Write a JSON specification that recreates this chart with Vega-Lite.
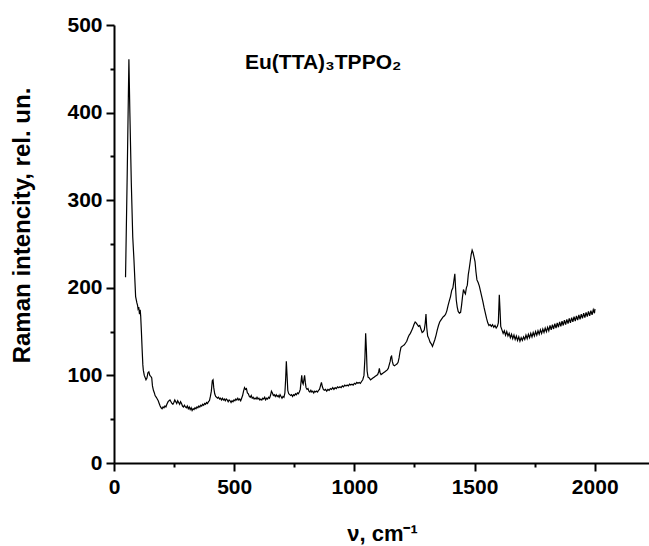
{
  "$schema": "https://vega.github.io/schema/vega-lite/v6.json",
  "autosize": {"type": "none"},
  "width": 536,
  "height": 438,
  "padding": {"left": 114, "top": 25, "right": 0, "bottom": 83},
  "background": "white",
  "config": {"view": {"stroke": null}, "font": "Liberation Sans"},
  "title": {
    "text": "Eu(TTA)₃TPPO₂",
    "anchor": "start",
    "frame": "group",
    "orient": "top",
    "offset": 0,
    "dx": 131,
    "dy": 76,
    "baseline": "alphabetic",
    "font": "Liberation Sans",
    "fontSize": 21,
    "fontWeight": "bold",
    "color": "black"
  },
  "data": {"values": [
    {"nu":48,"I":212},{"nu":55,"I":330},{"nu":62,"I":461},{"nu":66,"I":400},{"nu":72,"I":320},{"nu":78,"I":258},{"nu":83,"I":232},{"nu":90,"I":190},{"nu":95,"I":183},{"nu":98,"I":180},{"nu":100,"I":176},{"nu":103,"I":178},{"nu":106,"I":170},{"nu":109,"I":175},{"nu":111,"I":168},{"nu":114,"I":150},{"nu":117,"I":130},{"nu":120,"I":112},{"nu":122,"I":106},{"nu":126,"I":100},{"nu":129,"I":98},{"nu":133,"I":95},{"nu":137,"I":97},{"nu":141,"I":103},{"nu":145,"I":104},{"nu":149,"I":100},{"nu":153,"I":99},{"nu":157,"I":97},{"nu":160,"I":88},{"nu":164,"I":83},{"nu":168,"I":80},{"nu":171,"I":77},{"nu":176,"I":75},{"nu":180,"I":73},{"nu":184,"I":71},{"nu":188,"I":68},{"nu":192,"I":65},{"nu":196,"I":63},{"nu":200,"I":62},{"nu":204,"I":64},{"nu":208,"I":63},{"nu":212,"I":65},{"nu":216,"I":64},{"nu":220,"I":67},{"nu":225,"I":70},{"nu":229,"I":71},{"nu":233,"I":72},{"nu":237,"I":70},{"nu":241,"I":68},{"nu":245,"I":67},{"nu":249,"I":69},{"nu":253,"I":72},{"nu":257,"I":70},{"nu":261,"I":68},{"nu":265,"I":71},{"nu":269,"I":69},{"nu":273,"I":67},{"nu":277,"I":70},{"nu":281,"I":68},{"nu":285,"I":65},{"nu":289,"I":64},{"nu":293,"I":66},{"nu":297,"I":64},{"nu":301,"I":63},{"nu":305,"I":65},{"nu":309,"I":62},{"nu":313,"I":64},{"nu":317,"I":61},{"nu":321,"I":63},{"nu":325,"I":60},{"nu":329,"I":62},{"nu":333,"I":61},{"nu":337,"I":63},{"nu":341,"I":62},{"nu":345,"I":64},{"nu":349,"I":63},{"nu":353,"I":65},{"nu":357,"I":64},{"nu":361,"I":66},{"nu":365,"I":65},{"nu":369,"I":67},{"nu":373,"I":66},{"nu":377,"I":68},{"nu":381,"I":67},{"nu":385,"I":69},{"nu":389,"I":68},{"nu":393,"I":70},{"nu":397,"I":71},{"nu":401,"I":76},{"nu":405,"I":82},{"nu":409,"I":94},{"nu":412,"I":95},{"nu":415,"I":86},{"nu":419,"I":79},{"nu":423,"I":76},{"nu":427,"I":75},{"nu":431,"I":74},{"nu":435,"I":75},{"nu":439,"I":73},{"nu":443,"I":74},{"nu":447,"I":72},{"nu":451,"I":74},{"nu":455,"I":72},{"nu":459,"I":73},{"nu":463,"I":71},{"nu":467,"I":73},{"nu":471,"I":72},{"nu":475,"I":70},{"nu":479,"I":72},{"nu":483,"I":71},{"nu":487,"I":69},{"nu":491,"I":71},{"nu":495,"I":70},{"nu":499,"I":72},{"nu":503,"I":71},{"nu":507,"I":73},{"nu":511,"I":72},{"nu":515,"I":74},{"nu":519,"I":72},{"nu":523,"I":73},{"nu":527,"I":71},{"nu":531,"I":74},{"nu":535,"I":77},{"nu":539,"I":82},{"nu":543,"I":86},{"nu":547,"I":84},{"nu":551,"I":85},{"nu":555,"I":80},{"nu":559,"I":79},{"nu":563,"I":76},{"nu":567,"I":75},{"nu":571,"I":77},{"nu":575,"I":74},{"nu":579,"I":75},{"nu":583,"I":73},{"nu":587,"I":74},{"nu":591,"I":73},{"nu":595,"I":75},{"nu":599,"I":73},{"nu":603,"I":74},{"nu":607,"I":72},{"nu":611,"I":73},{"nu":615,"I":72},{"nu":619,"I":74},{"nu":623,"I":73},{"nu":627,"I":75},{"nu":631,"I":72},{"nu":635,"I":74},{"nu":639,"I":73},{"nu":643,"I":75},{"nu":647,"I":74},{"nu":651,"I":77},{"nu":655,"I":82},{"nu":659,"I":80},{"nu":663,"I":77},{"nu":667,"I":78},{"nu":671,"I":76},{"nu":675,"I":78},{"nu":679,"I":76},{"nu":683,"I":77},{"nu":687,"I":75},{"nu":691,"I":78},{"nu":695,"I":76},{"nu":699,"I":74},{"nu":703,"I":76},{"nu":707,"I":75},{"nu":711,"I":80},{"nu":714,"I":95},{"nu":717,"I":116},{"nu":720,"I":100},{"nu":723,"I":83},{"nu":727,"I":79},{"nu":731,"I":78},{"nu":735,"I":77},{"nu":739,"I":78},{"nu":743,"I":76},{"nu":747,"I":78},{"nu":751,"I":77},{"nu":755,"I":79},{"nu":759,"I":78},{"nu":763,"I":80},{"nu":767,"I":79},{"nu":771,"I":81},{"nu":775,"I":84},{"nu":779,"I":95},{"nu":781,"I":100},{"nu":784,"I":92},{"nu":787,"I":90},{"nu":790,"I":95},{"nu":793,"I":100},{"nu":796,"I":92},{"nu":799,"I":86},{"nu":803,"I":84},{"nu":807,"I":85},{"nu":811,"I":82},{"nu":815,"I":81},{"nu":819,"I":83},{"nu":823,"I":81},{"nu":827,"I":82},{"nu":831,"I":80},{"nu":835,"I":82},{"nu":839,"I":81},{"nu":843,"I":82},{"nu":847,"I":81},{"nu":851,"I":83},{"nu":855,"I":84},{"nu":859,"I":88},{"nu":863,"I":92},{"nu":867,"I":87},{"nu":871,"I":84},{"nu":875,"I":83},{"nu":880,"I":84},{"nu":885,"I":82},{"nu":890,"I":84},{"nu":895,"I":83},{"nu":900,"I":85},{"nu":905,"I":84},{"nu":910,"I":86},{"nu":915,"I":84},{"nu":920,"I":86},{"nu":925,"I":85},{"nu":930,"I":87},{"nu":935,"I":86},{"nu":940,"I":87},{"nu":945,"I":86},{"nu":950,"I":88},{"nu":955,"I":87},{"nu":960,"I":89},{"nu":965,"I":88},{"nu":970,"I":89},{"nu":975,"I":88},{"nu":980,"I":90},{"nu":985,"I":89},{"nu":990,"I":90},{"nu":995,"I":89},{"nu":1000,"I":91},{"nu":1005,"I":90},{"nu":1010,"I":92},{"nu":1015,"I":91},{"nu":1020,"I":92},{"nu":1025,"I":91},{"nu":1030,"I":93},{"nu":1035,"I":95},{"nu":1040,"I":100},{"nu":1044,"I":120},{"nu":1047,"I":148},{"nu":1050,"I":130},{"nu":1053,"I":105},{"nu":1057,"I":98},{"nu":1062,"I":97},{"nu":1067,"I":95},{"nu":1072,"I":96},{"nu":1077,"I":97},{"nu":1082,"I":98},{"nu":1087,"I":99},{"nu":1092,"I":100},{"nu":1097,"I":101},{"nu":1101,"I":104},{"nu":1104,"I":108},{"nu":1107,"I":103},{"nu":1111,"I":101},{"nu":1116,"I":102},{"nu":1121,"I":103},{"nu":1126,"I":104},{"nu":1131,"I":105},{"nu":1136,"I":106},{"nu":1141,"I":108},{"nu":1145,"I":112},{"nu":1149,"I":116},{"nu":1152,"I":121},{"nu":1155,"I":122},{"nu":1158,"I":116},{"nu":1162,"I":112},{"nu":1167,"I":111},{"nu":1172,"I":112},{"nu":1177,"I":113},{"nu":1182,"I":115},{"nu":1186,"I":120},{"nu":1190,"I":127},{"nu":1194,"I":132},{"nu":1198,"I":133},{"nu":1203,"I":134},{"nu":1208,"I":135},{"nu":1213,"I":137},{"nu":1218,"I":139},{"nu":1223,"I":143},{"nu":1228,"I":146},{"nu":1233,"I":148},{"nu":1238,"I":151},{"nu":1243,"I":154},{"nu":1248,"I":158},{"nu":1253,"I":161},{"nu":1257,"I":160},{"nu":1262,"I":158},{"nu":1267,"I":156},{"nu":1272,"I":157},{"nu":1277,"I":153},{"nu":1282,"I":149},{"nu":1287,"I":150},{"nu":1291,"I":152},{"nu":1295,"I":160},{"nu":1298,"I":170},{"nu":1301,"I":155},{"nu":1305,"I":145},{"nu":1310,"I":142},{"nu":1315,"I":138},{"nu":1320,"I":136},{"nu":1325,"I":133},{"nu":1330,"I":137},{"nu":1335,"I":141},{"nu":1340,"I":146},{"nu":1345,"I":152},{"nu":1350,"I":157},{"nu":1355,"I":161},{"nu":1360,"I":163},{"nu":1365,"I":165},{"nu":1370,"I":167},{"nu":1375,"I":168},{"nu":1380,"I":170},{"nu":1385,"I":174},{"nu":1390,"I":180},{"nu":1395,"I":185},{"nu":1400,"I":190},{"nu":1405,"I":197},{"nu":1410,"I":200},{"nu":1414,"I":208},{"nu":1418,"I":216},{"nu":1421,"I":200},{"nu":1424,"I":186},{"nu":1428,"I":178},{"nu":1432,"I":173},{"nu":1437,"I":171},{"nu":1442,"I":172},{"nu":1446,"I":180},{"nu":1450,"I":190},{"nu":1454,"I":198},{"nu":1458,"I":195},{"nu":1462,"I":193},{"nu":1466,"I":200},{"nu":1470,"I":203},{"nu":1474,"I":215},{"nu":1478,"I":222},{"nu":1482,"I":230},{"nu":1486,"I":238},{"nu":1490,"I":243},{"nu":1494,"I":240},{"nu":1498,"I":235},{"nu":1502,"I":230},{"nu":1506,"I":218},{"nu":1510,"I":209},{"nu":1515,"I":206},{"nu":1520,"I":202},{"nu":1525,"I":196},{"nu":1530,"I":190},{"nu":1535,"I":184},{"nu":1540,"I":177},{"nu":1545,"I":171},{"nu":1550,"I":165},{"nu":1555,"I":160},{"nu":1560,"I":157},{"nu":1565,"I":158},{"nu":1570,"I":156},{"nu":1575,"I":158},{"nu":1580,"I":155},{"nu":1585,"I":157},{"nu":1590,"I":154},{"nu":1595,"I":156},{"nu":1599,"I":160},{"nu":1603,"I":192},{"nu":1606,"I":175},{"nu":1609,"I":156},{"nu":1614,"I":152},{"nu":1619,"I":148},{"nu":1624,"I":151},{"nu":1629,"I":146},{"nu":1634,"I":150},{"nu":1639,"I":145},{"nu":1644,"I":148},{"nu":1649,"I":143},{"nu":1654,"I":147},{"nu":1659,"I":142},{"nu":1664,"I":146},{"nu":1669,"I":141},{"nu":1674,"I":145},{"nu":1679,"I":140},{"nu":1684,"I":144},{"nu":1689,"I":139},{"nu":1694,"I":143},{"nu":1699,"I":140},{"nu":1704,"I":144},{"nu":1709,"I":141},{"nu":1714,"I":146},{"nu":1719,"I":142},{"nu":1724,"I":147},{"nu":1729,"I":143},{"nu":1734,"I":148},{"nu":1739,"I":144},{"nu":1744,"I":149},{"nu":1749,"I":145},{"nu":1754,"I":150},{"nu":1759,"I":146},{"nu":1764,"I":151},{"nu":1769,"I":147},{"nu":1774,"I":152},{"nu":1779,"I":148},{"nu":1784,"I":153},{"nu":1789,"I":149},{"nu":1794,"I":154},{"nu":1799,"I":150},{"nu":1804,"I":155},{"nu":1809,"I":151},{"nu":1814,"I":157},{"nu":1819,"I":152},{"nu":1824,"I":158},{"nu":1829,"I":153},{"nu":1834,"I":159},{"nu":1839,"I":154},{"nu":1844,"I":160},{"nu":1849,"I":155},{"nu":1854,"I":161},{"nu":1859,"I":156},{"nu":1864,"I":162},{"nu":1869,"I":157},{"nu":1874,"I":163},{"nu":1879,"I":158},{"nu":1884,"I":164},{"nu":1889,"I":159},{"nu":1894,"I":165},{"nu":1899,"I":160},{"nu":1904,"I":166},{"nu":1909,"I":161},{"nu":1914,"I":167},{"nu":1919,"I":162},{"nu":1924,"I":168},{"nu":1929,"I":163},{"nu":1934,"I":169},{"nu":1939,"I":164},{"nu":1944,"I":170},{"nu":1949,"I":165},{"nu":1954,"I":171},{"nu":1959,"I":166},{"nu":1964,"I":172},{"nu":1969,"I":167},{"nu":1974,"I":173},{"nu":1979,"I":168},{"nu":1984,"I":174},{"nu":1989,"I":169},{"nu":1994,"I":175},{"nu":1999,"I":171},{"nu":2001,"I":176}
  ]},
  "layer": [
    {
      "mark": {"type": "line", "color": "black", "strokeWidth": 1.2, "clip": true},
      "encoding": {
        "x": {
          "field": "nu", "type": "quantitative",
          "scale": {"domain": [0, 2230], "nice": false, "zero": false},
          "axis": {
            "orient": "bottom",
            "title": "ν, cm⁻¹",
            "values": [0, 500, 1000, 1500, 2000],
            "format": "d",
            "grid": false,
            "domainColor": "black", "domainWidth": 2,
            "tickColor": "black", "tickWidth": 2, "tickSize": 8,
            "labelFont": "Liberation Sans", "labelFontSize": 21, "labelFontWeight": "bold", "labelColor": "black",
            "labelPadding": 5, "labelFlush": false, "labelOverlap": false,
            "titleFont": "Liberation Sans", "titleFontSize": 22, "titleFontWeight": "bold", "titleColor": "black",
            "titleBaseline": "alphabetic", "titleY": 77, "titleX": 268
          }
        },
        "y": {
          "field": "I", "type": "quantitative",
          "scale": {"domain": [0, 500], "nice": false},
          "axis": {
            "orient": "left",
            "title": "Raman intencity, rel. un.",
            "values": [0, 100, 200, 300, 400, 500],
            "grid": false,
            "domainColor": "black", "domainWidth": 2,
            "tickColor": "black", "tickWidth": 2, "tickSize": 8,
            "labelFont": "Liberation Sans", "labelFontSize": 21, "labelFontWeight": "bold", "labelColor": "black",
            "labelPadding": 4, "labelFlush": false, "labelOverlap": false,
            "titleFont": "Liberation Sans", "titleFontSize": 24, "titleFontWeight": "bold", "titleColor": "black",
            "titleBaseline": "alphabetic", "titleAngle": -90, "titleX": -85, "titleY": 200
          }
        }
      }
    },
    {
      "mark": {"type": "line", "strokeOpacity": 0},
      "encoding": {
        "x": {
          "field": "nu", "type": "quantitative",
          "scale": {"domain": [0, 2230], "nice": false, "zero": false},
          "axis": {
            "orient": "bottom", "title": null, "labels": false, "domain": false, "grid": false,
            "values": [250, 750, 1250, 1750],
            "tickColor": "black", "tickWidth": 2, "tickSize": 4
          }
        },
        "y": {
          "field": "I", "type": "quantitative",
          "scale": {"domain": [0, 500], "nice": false},
          "axis": {
            "orient": "left", "title": null, "labels": false, "domain": false, "grid": false,
            "values": [50, 150, 250, 350, 450],
            "tickColor": "black", "tickWidth": 2, "tickSize": 4
          }
        }
      }
    }
  ],
  "resolve": {"axis": {"x": "independent", "y": "independent"}}
}
